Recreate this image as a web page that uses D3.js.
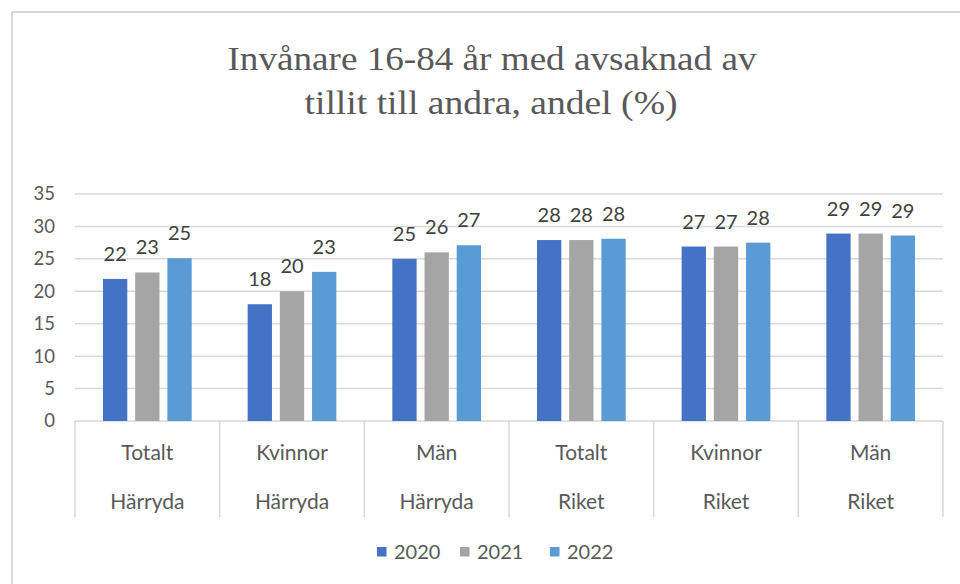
<!DOCTYPE html>
<html>
<head>
<meta charset="utf-8">
<script src="https://cdn.jsdelivr.net/npm/d3@7"></script>
<style>
  body { margin: 0; background: #fff; }
  svg { display: block; }
</style>
</head>
<body>
<script>
var width = 960;
var height = 584;

// data
var categories = ["Totalt|Härryda", "Kvinnor|Härryda", "Män|Härryda", "Totalt|Riket", "Kvinnor|Riket", "Män|Riket"];
var years = ["2020", "2021", "2022"];
var v2020 = [21.9, 18.0, 25.0, 27.9, 26.9, 28.9];
var v2021 = [22.9, 20.0, 26.0, 27.9, 26.9, 28.9];
var v2022 = [25.1, 23.0, 27.1, 28.1, 27.5, 28.6];
var yTicks = [0, 5, 10, 15, 20, 25, 30, 35];
var colors = ["#4472c4", "#a5a5a5", "#5b9bd5"];

var series = [v2020, v2021, v2022];
var rows = categories.map(function(c, i) {
    return { cat: c, values: years.map(function(yr, j) { return { year: yr, value: series[j][i] }; }) };
});

var svg = d3.select("body").append("svg")
    .attr("width", width)
    .attr("height", height);

// outer chart frame
svg.append("rect")
    .attr("x", 12).attr("y", 12)
    .attr("width", 1000).attr("height", 700)
    .attr("fill", "#fff")
    .attr("stroke", "#d9d9d9")
    .attr("stroke-width", 2);

// title
var title = svg.append("text")
    .attr("text-anchor", "middle")
    .attr("font-family", "'Liberation Serif', 'Times New Roman', serif")
    .attr("font-size", 34)
    .attr("fill", "#595959");
title.append("tspan").attr("x", 492).attr("y", 70)
    .attr("textLength", 529).attr("lengthAdjust", "spacingAndGlyphs")
    .text("Invånare 16-84 år med avsaknad  av");
title.append("tspan").attr("x", 491).attr("y", 114)
    .attr("textLength", 373).attr("lengthAdjust", "spacingAndGlyphs")
    .text("tillit till andra, andel (%)");

var x0 = d3.scaleBand()
    .domain(categories)
    .range([75, 943])
    .paddingInner(0)
    .paddingOuter(0);

var x1 = d3.scaleBand()
    .domain(years)
    .range([0, 88.7])
    .paddingInner(0.245);

var y = d3.scaleLinear()
    .domain([0, 35])
    .range([421, 194]);

var font = "Lato, 'Open Sans', sans-serif";

// gridlines
svg.append("g")
    .selectAll("line")
    .data(yTicks)
    .enter()
      .append("line")
      .attr("x1", 75)
      .attr("x2", 943)
      .attr("y1", function(d) { return y(d); })
      .attr("y2", function(d) { return y(d); })
      .attr("stroke", "#d9d9d9")
      .attr("stroke-width", 1.5);

// y axis labels
var yAxis = d3.axisLeft(y).tickValues(yTicks).tickSize(0).tickPadding(20);
var gy = svg.append("g")
    .attr("transform", "translate(75,0)")
    .call(yAxis);
gy.select(".domain").remove();
gy.selectAll("text")
    .attr("font-family", font)
    .attr("font-size", 18.5)
    .attr("fill", "#595959");

// category separators
var bounds = categories.map(function(c) { return x0(c); }).concat([943]);
svg.append("g")
    .selectAll("line")
    .data(bounds)
    .enter()
      .append("line")
      .attr("x1", function(d) { return d; })
      .attr("x2", function(d) { return d; })
      .attr("y1", y(0))
      .attr("y2", 517)
      .attr("stroke", "#d9d9d9")
      .attr("stroke-width", 1.5);

// category labels (two levels)
var catLab = svg.append("g")
    .attr("font-family", font)
    .attr("font-size", 21)
    .attr("fill", "#595959")
    .attr("text-anchor", "middle");
catLab.selectAll(".lvl1")
    .data(categories)
    .enter()
      .append("text")
      .attr("x", function(d) { return x0(d) + x0.bandwidth() / 2; })
      .attr("y", 460)
      .text(function(d) { return d.split("|")[0]; });
catLab.selectAll(".lvl2")
    .data(categories)
    .enter()
      .append("text")
      .attr("x", function(d) { return x0(d) + x0.bandwidth() / 2; })
      .attr("y", 509)
      .text(function(d) { return d.split("|")[1]; });

// bars
var groups = svg.selectAll(".grp")
    .data(rows)
    .enter()
      .append("g")
      .attr("class", "grp")
      .attr("transform", function(d) { return "translate(" + (x0(d.cat) + x0.bandwidth() / 2 - 44.35) + ",0)"; });

groups.selectAll("rect")
    .data(function(d) { return d.values; })
    .enter()
      .append("rect")
      .attr("x", function(d) { return x1(d.year); })
      .attr("y", function(d) { return y(d.value); })
      .attr("width", x1.bandwidth())
      .attr("height", function(d) { return y(0) - y(d.value); })
      .attr("fill", function(d, i) { return colors[i]; });

groups.selectAll(".lbl")
    .data(function(d) { return d.values; })
    .enter()
      .append("text")
      .attr("class", "lbl")
      .attr("x", function(d) { return x1(d.year) + x1.bandwidth() / 2; })
      .attr("y", function(d) { return y(d.value) - 18; })
      .attr("text-anchor", "middle")
      .attr("font-family", font)
      .attr("font-size", 20)
      .attr("fill", "#404040")
      .text(function(d) { return Math.round(d.value); });

// legend
var legendX = [377, 460, 550];
var lg = svg.selectAll(".leg")
    .data(years)
    .enter()
      .append("g")
      .attr("class", "leg")
      .attr("transform", function(d, i) { return "translate(" + legendX[i] + ",547)"; });
lg.append("rect")
    .attr("width", 9.5)
    .attr("height", 9.5)
    .attr("fill", function(d, i) { return colors[i]; });
lg.append("text")
    .attr("x", 17)
    .attr("y", 12)
    .attr("font-family", font)
    .attr("font-size", 20)
    .attr("fill", "#595959")
    .text(function(d) { return d; });
</script>
</body>
</html>
